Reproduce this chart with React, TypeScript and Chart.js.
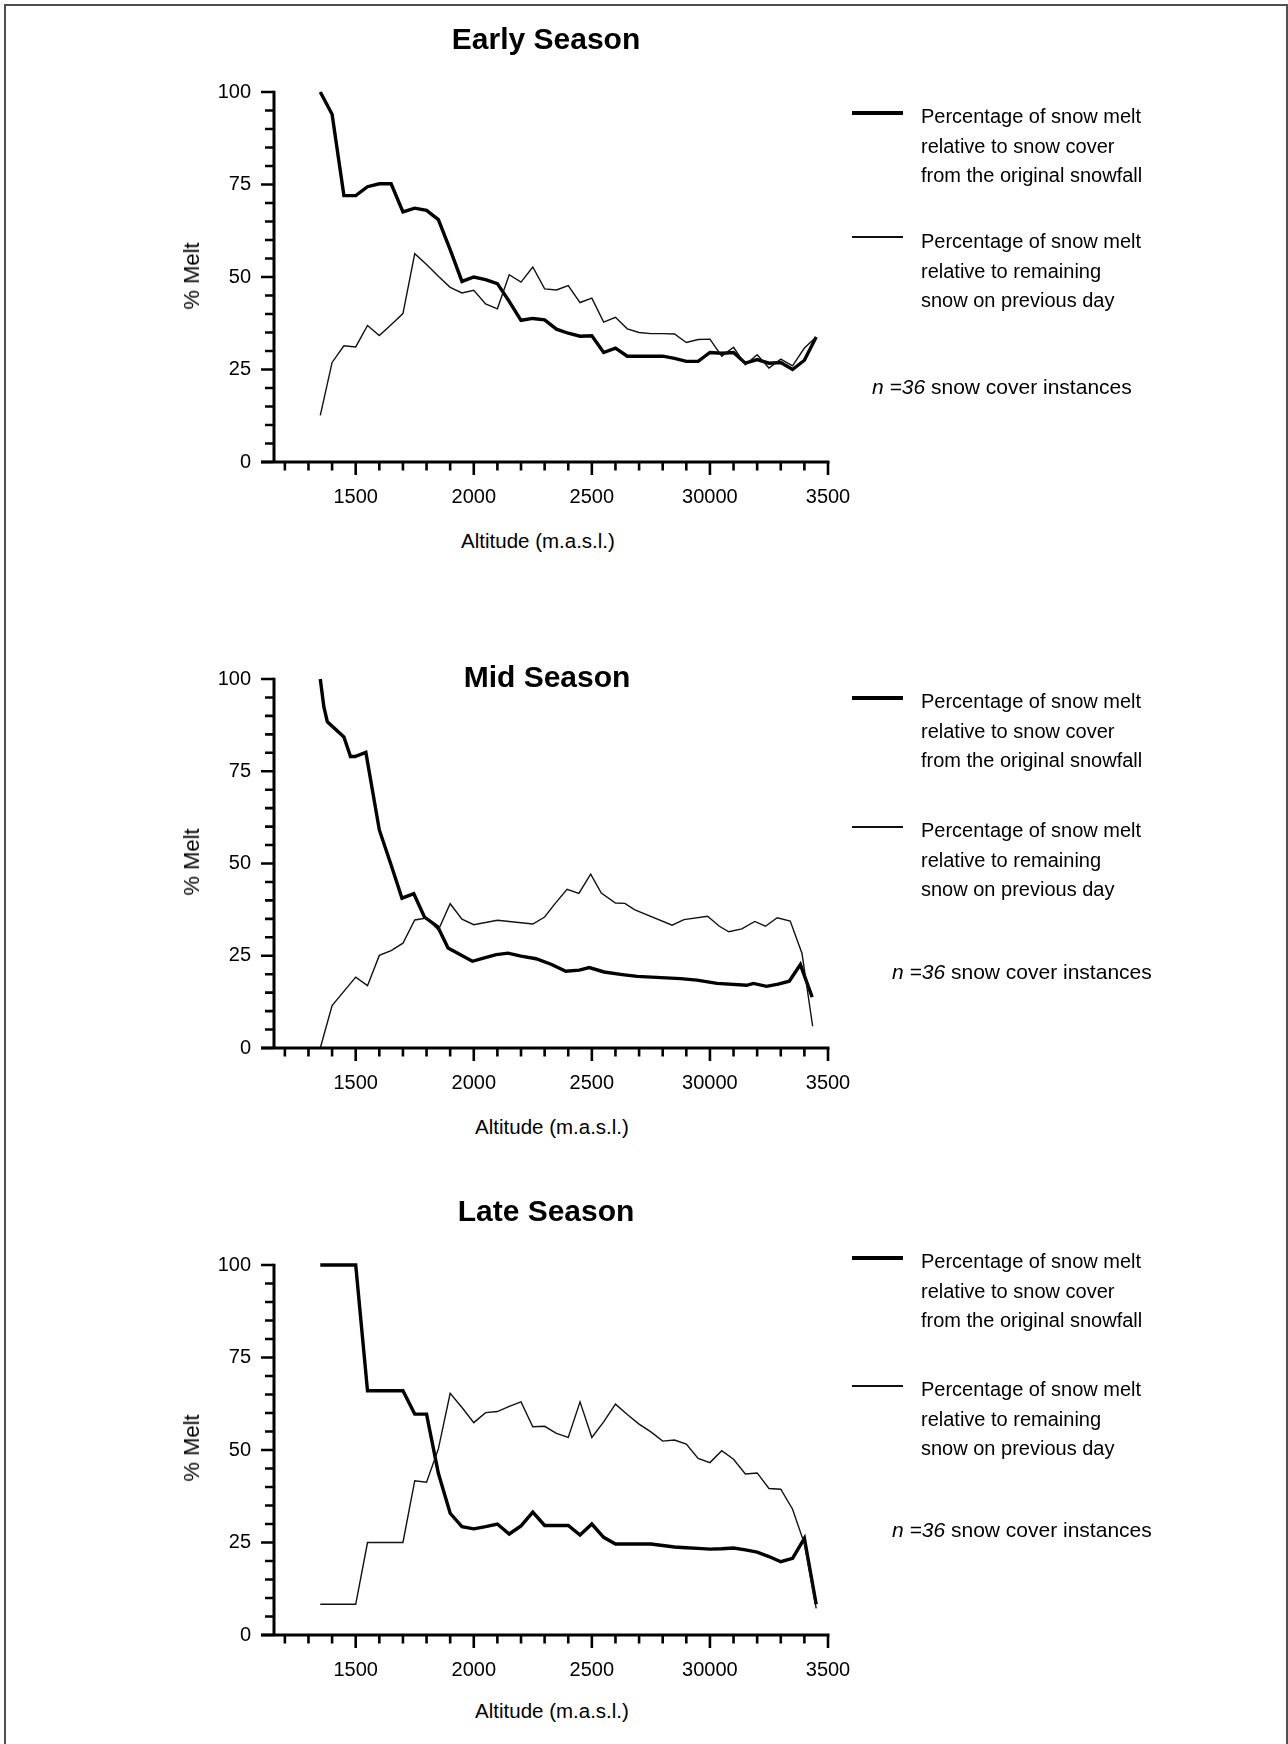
import React, { useEffect, useRef } from 'react';
import { Chart, registerables } from 'chart.js';

Chart.register(...registerables);

// ---------- data ----------
const X_TICKS = [1500, 2000, 2500, 3000, 3500];
const X_TICK_LABELS = ['1500', '2000', '2500', '30000', '3500'];
const Y_TICKS = [0, 25, 50, 75, 100];
const X_MIN = 1154;
const X_MAX = 3500;

const EARLY_ALT = [
  1350, 1400, 1450, 1500, 1550, 1600, 1650, 1700, 1750, 1800,
  1850, 1900, 1950, 2000, 2050, 2100, 2150, 2200, 2250, 2300,
  2350, 2400, 2450, 2500, 2550, 2600, 2650, 2700, 2750, 2800,
  2850, 2900, 2950, 3000, 3050, 3100, 3150, 3200, 3250, 3300,
  3350, 3400, 3450,
];
const EARLY_ORIGINAL = [
  100, 94, 72, 72, 74.4, 75.2, 75.2, 67.6, 68.6, 68.0,
  65.5, 57.4, 48.8, 50, 49.3, 48.2, 43.4, 38.3, 38.8, 38.4,
  35.9, 34.8, 34.0, 34.1, 29.6, 30.8, 28.6, 28.6, 28.6, 28.6,
  28.0, 27.2, 27.2, 29.6, 29.4, 29.6, 26.7, 27.7, 26.7, 26.9,
  25.0, 27.5, 33.8,
];
const EARLY_REMAINING = [
  12.6, 26.9, 31.4, 31.1, 36.9, 34.2, 37.1, 40.1, 56.3, 53.4,
  50.2, 47.2, 45.7, 46.4, 42.7, 41.4, 50.6, 48.6, 52.7, 46.8,
  46.5, 47.7, 43.1, 44.3, 37.8, 39.1, 36.0, 35.0, 34.7, 34.7,
  34.6, 32.3, 33.1, 33.2, 28.6, 31.0, 26.3, 29.0, 25.4, 27.8,
  26.0, 30.8, 33.8,
];

const MID_ORIGINAL_ALT = [
  1350, 1365, 1380, 1450, 1478, 1497, 1543, 1600, 1650, 1696,
  1746, 1791, 1848, 1891, 1994, 2045, 2095, 2145, 2200, 2264,
  2327, 2390, 2447, 2489, 2552, 2629, 2692, 2875, 2945, 3030,
  3156, 3184, 3240, 3289, 3336, 3383, 3433,
];
const MID_ORIGINAL = [
  100, 92.5, 88.4, 84.3, 79, 79, 80.1, 59.1, 49.6, 40.6,
  41.8, 35.5, 32.8, 27.1, 23.5, 24.4, 25.3, 25.7, 24.9, 24.2,
  22.7, 20.8, 21.1, 21.8, 20.6, 19.9, 19.4, 18.8, 18.4, 17.5,
  17.0, 17.5, 16.7, 17.3, 18.1, 22.6, 13.8,
];
const MID_REMAINING_ALT = [
  1350, 1400, 1500, 1550, 1600, 1650, 1700, 1750, 1800, 1850,
  1900, 1950, 2000, 2100, 2250, 2300, 2345, 2395, 2445, 2495,
  2540, 2600, 2640, 2680, 2840, 2890, 2990, 3040, 3080, 3135,
  3190, 3235, 3285, 3340, 3390, 3435,
];
const MID_REMAINING = [
  0, 11.5, 19.2, 16.9, 25.1, 26.4, 28.4, 34.7, 35.2, 32.0,
  39.1, 34.9, 33.4, 34.6, 33.6, 35.5, 39.2, 43.0, 41.9, 47.1,
  42.0, 39.3, 39.2, 37.5, 33.3, 34.8, 35.7, 33.0, 31.5, 32.3,
  34.3, 33.0, 35.3, 34.4, 25.6, 5.9,
];

const LATE_ALT = EARLY_ALT;
const LATE_ORIGINAL = [
  100, 100, 100, 100, 66, 66, 66, 66, 59.7, 59.7,
  43.7, 32.9, 29.3, 28.7, 29.3, 30.0, 27.3, 29.5, 33.2, 29.6,
  29.6, 29.6, 27.0, 30.0, 26.4, 24.6, 24.6, 24.6, 24.6, 24.2,
  23.8, 23.6, 23.4, 23.2, 23.3, 23.5, 23.0, 22.4, 21.2, 19.8,
  20.7, 26.1, 8.3,
];
const LATE_REMAINING = [
  8.3, 8.3, 8.3, 8.3, 25.0, 25.0, 25.0, 25.0, 41.7, 41.3,
  50.3, 65.3, 61.5, 57.4, 60.1, 60.4, 61.8, 63.0, 56.3, 56.4,
  54.5, 53.4, 63.0, 53.4, 57.6, 62.4, 59.6, 57.0, 54.9, 52.4,
  52.7, 51.6, 47.7, 46.6, 49.8, 47.5, 43.5, 43.8, 39.6, 39.4,
  34.0, 24.7, 7.2,
];

const LEGEND_ORIGINAL = ['Percentage of snow melt', 'relative to snow cover', 'from the original snowfall'];
const LEGEND_REMAINING = ['Percentage of snow melt', 'relative to remaining', 'snow on previous day'];
const Y_TITLE = '% Melt';
const X_TITLE = 'Altitude (m.a.s.l.)';

// ---------- layout ----------
const FONT = "'Liberation Sans', Arial, Helvetica, sans-serif";
const W = 1288;
const H = 1744;
const PLOT_LEFT = 274;
const PLOT_RIGHT = 828;
const PAD_TOP = 40;
const X_AXIS_H = 50;

type PanelSpec = {
  title: string;
  titleX: number; titleY: number;
  plotTop: number; plotBottom: number;
  yTitleY: number; xTitleX: number; xTitleY: number;
  s1: number; t1: number; s2: number; t2: number;
  noteX: number; noteY: number;
  origAlt: number[]; orig: number[];
  remAlt: number[]; rem: number[];
};

const PANELS: PanelSpec[] = [
  {
    title: 'Early Season', titleX: 546, titleY: 39,
    plotTop: 92, plotBottom: 462,
    yTitleY: 276, xTitleX: 538, xTitleY: 541,
    s1: 113, t1: 117, s2: 237, t2: 242,
    noteX: 872, noteY: 387,
    origAlt: EARLY_ALT, orig: EARLY_ORIGINAL, remAlt: EARLY_ALT, rem: EARLY_REMAINING,
  },
  {
    title: 'Mid Season', titleX: 547, titleY: 677,
    plotTop: 679, plotBottom: 1048,
    yTitleY: 862, xTitleX: 552, xTitleY: 1127,
    s1: 698, t1: 702, s2: 827, t2: 831,
    noteX: 892, noteY: 972,
    origAlt: MID_ORIGINAL_ALT, orig: MID_ORIGINAL, remAlt: MID_REMAINING_ALT, rem: MID_REMAINING,
  },
  {
    title: 'Late Season', titleX: 546, titleY: 1211,
    plotTop: 1265, plotBottom: 1635,
    yTitleY: 1448, xTitleX: 552, xTitleY: 1711,
    s1: 1258, t1: 1262, s2: 1386, t2: 1390,
    noteX: 892, noteY: 1530,
    origAlt: LATE_ALT, orig: LATE_ORIGINAL, remAlt: LATE_ALT, rem: LATE_REMAINING,
  },
];

const axisPlugin = {
  id: 'customAxes',
  afterDraw(chart: any) {
    const { ctx, chartArea, scales } = chart;
    const x = scales.x;
    const y = scales.y;
    const y0 = y.getPixelForValue(0);
    const y100 = y.getPixelForValue(100);
    const xl = chartArea.left;
    const xr = x.getPixelForValue(X_MAX);
    ctx.save();
    ctx.strokeStyle = '#000';
    ctx.lineCap = 'butt';
    ctx.lineWidth = 3;
    ctx.beginPath();
    ctx.moveTo(xl, y100 - 1.2);
    ctx.lineTo(xl, y0);
    ctx.moveTo(xl - 13, y0);
    ctx.lineTo(xr + 1.5, y0);
    ctx.stroke();
    ctx.lineWidth = 2.6;
    ctx.beginPath();
    for (let v = 0; v <= 100; v += 5) {
      const len = v % 25 === 0 ? 13 : 9;
      const py = y.getPixelForValue(v);
      ctx.moveTo(xl - len, py);
      ctx.lineTo(xl, py);
    }
    for (let v = 1200; v <= X_MAX; v += 100) {
      const len = v % 500 === 0 ? 13 : 8.5;
      const px = x.getPixelForValue(v);
      ctx.moveTo(px, y0);
      ctx.lineTo(px, y0 + len);
    }
    ctx.stroke();
    ctx.restore();
  },
};

function Panel({ p }: { p: PanelSpec }) {
  const ref = useRef<HTMLCanvasElement | null>(null);
  const canvasTop = p.plotTop - PAD_TOP;
  const canvasH = PAD_TOP + (p.plotBottom - p.plotTop) + X_AXIS_H;

  useEffect(() => {
    const canvas = ref.current;
    if (!canvas) return;
    const chart = new Chart(canvas, {
      type: 'line',
      data: {
        datasets: [
          {
            label: LEGEND_REMAINING.join(' '),
            data: p.remAlt.map((a, i) => ({ x: a, y: p.rem[i] })),
            borderColor: '#111',
            borderWidth: 1.4,
            pointRadius: 0,
            tension: 0,
            fill: false,
            clip: false as any,
          },
          {
            label: LEGEND_ORIGINAL.join(' '),
            data: p.origAlt.map((a, i) => ({ x: a, y: p.orig[i] })),
            borderColor: '#000',
            borderWidth: 3.4,
            pointRadius: 0,
            tension: 0,
            fill: false,
            clip: false as any,
          },
        ],
      },
      options: {
        responsive: false,
        animation: false,
        devicePixelRatio: 1,
        events: [],
        layout: { padding: { top: PAD_TOP, left: 0, right: W - PLOT_RIGHT, bottom: 0 } },
        plugins: { legend: { display: false }, tooltip: { enabled: false }, title: { display: false } },
        scales: {
          x: {
            type: 'linear',
            min: X_MIN,
            max: X_MAX,
            grid: { display: false, drawTicks: false },
            border: { display: false },
            afterBuildTicks: (s: any) => { s.ticks = X_TICKS.map((v) => ({ value: v })); },
            afterFit: (s: any) => { s.height = X_AXIS_H; },
            ticks: {
              autoSkip: false,
              maxRotation: 0,
              minRotation: 0,
              padding: 23,
              color: '#000',
              font: { family: FONT, size: 20 },
              callback: (v: any) => {
                const i = X_TICKS.indexOf(Number(v));
                return i >= 0 ? X_TICK_LABELS[i] : '';
              },
            },
          },
          y: {
            type: 'linear',
            min: 0,
            max: 100,
            grid: { display: false, drawTicks: false },
            border: { display: false },
            afterBuildTicks: (s: any) => { s.ticks = Y_TICKS.map((v) => ({ value: v })); },
            afterFit: (s: any) => { s.width = PLOT_LEFT; },
            ticks: {
              padding: 23,
              color: '#000',
              font: { family: FONT, size: 20 },
              callback: (v: any) => String(v),
            },
          },
        },
      },
      plugins: [axisPlugin],
    });
    return () => chart.destroy();
  }, []);

  const text: React.CSSProperties = {
    position: 'absolute',
    fontFamily: FONT,
    fontSize: 20,
    color: '#000',
    whiteSpace: 'nowrap',
    lineHeight: '24px',
  };
  const LH = 29.5;

  return (
    <>
      <canvas
        ref={ref}
        width={W}
        height={canvasH}
        style={{ position: 'absolute', left: 0, top: canvasTop, width: W, height: canvasH }}
      />
      <div
        style={{
          ...text,
          fontSize: 30,
          fontWeight: 'bold',
          lineHeight: '36px',
          left: p.titleX,
          top: p.titleY - 18,
          transform: 'translateX(-50%)',
        }}
      >
        {p.title}
      </div>
      <div
        style={{
          ...text,
          fontSize: 22,
          lineHeight: '26px',
          left: 192,
          top: p.yTitleY - 13,
          transform: 'translateX(-50%) rotate(-90deg)',
        }}
      >
        {Y_TITLE}
      </div>
      <div style={{ ...text, fontSize: 20.5, left: p.xTitleX, top: p.xTitleY - 12, transform: 'translateX(-50%)' }}>{X_TITLE}</div>

      <div style={{ position: 'absolute', left: 852, top: p.s1 - 1.75, width: 51, height: 3.5, background: '#000' }} />
      <div style={{ ...text, left: 921, top: p.t1 - LH / 2, lineHeight: LH + 'px' }}>
        {LEGEND_ORIGINAL.map((l, i) => (
          <div key={i}>{l}</div>
        ))}
      </div>
      <div style={{ position: 'absolute', left: 852, top: p.s2 - 0.7, width: 51, height: 1.4, background: '#111' }} />
      <div style={{ ...text, left: 921, top: p.t2 - LH / 2, lineHeight: LH + 'px' }}>
        {LEGEND_REMAINING.map((l, i) => (
          <div key={i}>{l}</div>
        ))}
      </div>
      <div style={{ ...text, fontSize: 21, left: p.noteX, top: p.noteY - 12 }}>
        <i>n =36</i> snow cover instances
      </div>
    </>
  );
}

export default function App() {
  return (
    <div
      style={{
        position: 'absolute',
        left: 0,
        top: 0,
        width: W,
        height: H,
        overflow: 'hidden',
        background: '#fff',
      }}
    >
      <div
        style={{
          position: 'absolute',
          left: 4,
          top: 4,
          width: W - 4,
          height: H + 20,
          boxSizing: 'border-box',
          border: '2px solid #505050',
        }}
      />
      {PANELS.map((p, i) => (
        <Panel key={i} p={p} />
      ))}
    </div>
  );
}
